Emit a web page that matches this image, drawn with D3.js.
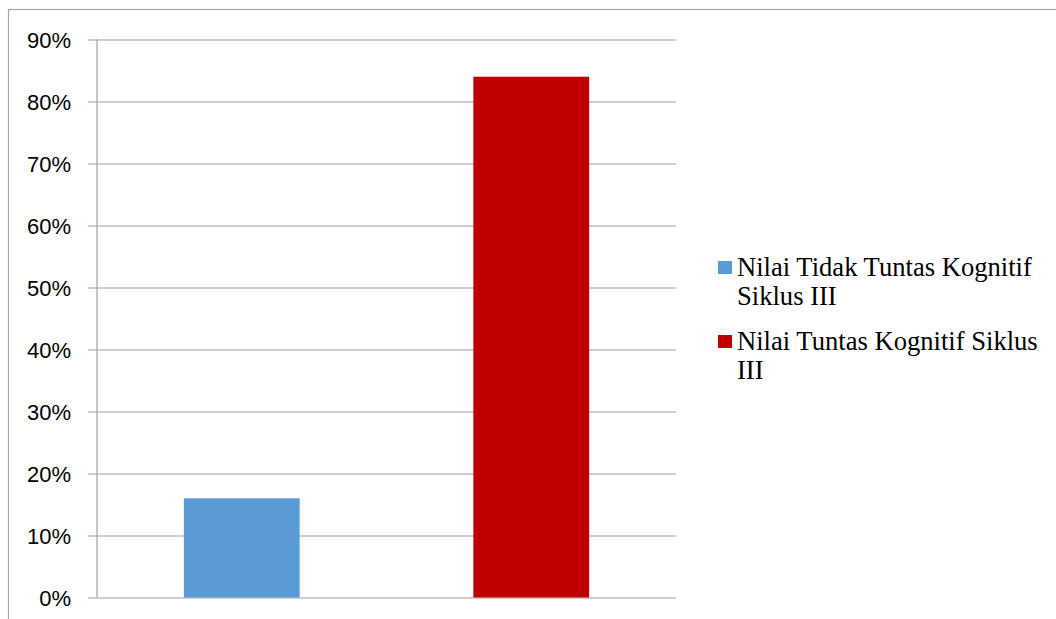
<!DOCTYPE html>
<html>
<head>
<meta charset="utf-8">
<script src="https://cdn.jsdelivr.net/npm/d3@7"></script>
<style>
html,body{margin:0;padding:0;background:#fff;}
svg{display:block;}
</style>
</head>
<body>
<svg id="chart" width="1056" height="619"></svg>
<script>
const categories = ["Nilai Tidak Tuntas Kognitif Siklus III", "Nilai Tuntas Kognitif Siklus III"];
const values = [0.16, 0.84];
const colors = ["#5B9BD5", "#C00000"];
const legendLines = [["Nilai Tidak Tuntas Kognitif", "Siklus III"], ["Nilai Tuntas Kognitif Siklus", "III"]];
const tickValues = [0, 0.1, 0.2, 0.3, 0.4, 0.5, 0.6, 0.7, 0.8, 0.9];

(function () {
const svg = d3.select("#chart");

// outer chart border
svg.append("rect")
  .attr("x", 8.5).attr("y", 9.5)
  .attr("width", 1200).attr("height", 800)
  .attr("fill", "none").attr("stroke", "#a6a6a6").attr("stroke-width", 1.2);

const pL = 97, pR = 676, pT = 39.5, pB = 597.5;

const x = d3.scaleBand().domain(categories).range([pL, pR]).paddingInner(0.6).paddingOuter(0.3);
const y = d3.scaleLinear().domain([0, 0.9]).range([pB, pT]);

// gridlines with tick marks
const gy = svg.append("g").attr("transform", `translate(${pR},0)`);
gy.call(d3.axisLeft(y).tickValues(tickValues).tickSize(pR - pL + 9).tickFormat(""));
gy.select(".domain").remove();
gy.selectAll(".tick line").attr("stroke", "#a0a0a0").attr("stroke-width", 1.2);

// labels
svg.append("g").selectAll("text").data(tickValues).join("text")
  .attr("x", 71).attr("y", d => y(d))
  .attr("dy", "0.37em")
  .attr("text-anchor", "end")
  .attr("font-family", "Liberation Sans, Arial, sans-serif")
  .attr("font-size", 22)
  .attr("fill", "#000")
  .text(d => d3.format(".0%")(d));

// bars
svg.append("g").selectAll("rect").data(values).join("rect")
  .attr("x", (d, i) => x(categories[i]))
  .attr("width", x.bandwidth())
  .attr("y", d => y(d))
  .attr("height", d => y(0) - y(d))
  .attr("fill", (d, i) => colors[i]);

// y axis line
svg.append("line")
  .attr("x1", pL).attr("x2", pL).attr("y1", pT).attr("y2", pB)
  .attr("stroke", "#a0a0a0").attr("stroke-width", 1.2);

// legend
const leg = svg.append("g");
categories.forEach((c, i) => {
  const g0 = 261 + i * 74;
  leg.append("rect").attr("x", 718).attr("y", g0).attr("width", 14).attr("height", 13).attr("fill", colors[i]);
  legendLines[i].forEach((ln, j) => {
    leg.append("text")
      .attr("x", 737).attr("y", g0 + 15 + j * 29.3)
      .attr("font-family", "Liberation Serif, Times New Roman, serif")
      .attr("font-size", 26.6)
      .attr("fill", "#000")
      .text(ln);
  });
});
})();
</script>
</body>
</html>
